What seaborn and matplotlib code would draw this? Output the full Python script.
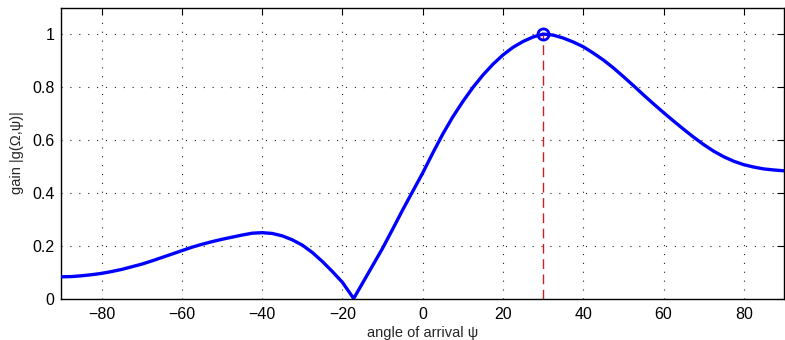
import matplotlib
matplotlib.use("Agg")
import matplotlib.pyplot as plt
import seaborn as sns
import pandas as pd

# angle of arrival (degrees) and gain
psi = [-90, -87.5, -85, -82.5, -80, -77.5, -75, -72.5, -70, -67.5, -65, -62.5,
       -60, -57.5, -55, -52.5, -50, -47.5, -45, -42.5, -40, -37.5, -35, -32.5,
       -30, -27.5, -25, -22.5, -20, -17.2, -15, -12.5, -10, -7.5, -5, -2.5,
       0, 2.5, 5, 7.5, 10, 12.5, 15, 17.5, 20, 22.5, 25, 27.5, 30, 32.5, 35,
       37.5, 40, 42.5, 45, 47.5, 50, 52.5, 55, 57.5, 60, 62.5, 65, 67.5, 70,
       72.5, 75, 77.5, 80, 82.5, 85, 87.5, 90]
gain = [0.082, 0.083, 0.086, 0.090, 0.095, 0.102, 0.110, 0.120, 0.130, 0.142,
        0.155, 0.168, 0.181, 0.194, 0.205, 0.215, 0.224, 0.232, 0.240, 0.247,
        0.249, 0.246, 0.237, 0.222, 0.202, 0.174, 0.140, 0.102, 0.061, 0.0,
        0.058, 0.124, 0.190, 0.262, 0.335, 0.405, 0.475, 0.550, 0.622, 0.687,
        0.745, 0.798, 0.845, 0.886, 0.921, 0.950, 0.972, 0.989, 1.0, 0.996,
        0.985, 0.970, 0.952, 0.928, 0.902, 0.872, 0.839, 0.805, 0.770, 0.736,
        0.703, 0.671, 0.640, 0.610, 0.582, 0.557, 0.536, 0.519, 0.506, 0.497,
        0.490, 0.486, 0.483]

peak_psi = [30]
peak_gain = [1.0]

x_ticks = [-80, -60, -40, -20, 0, 20, 40, 60, 80]
y_ticks = [0, 0.2, 0.4, 0.6, 0.8, 1]
y_tick_labels = ["0", "0.2", "0.4", "0.6", "0.8", "1"]

sns.set_style("white")
plt.rcParams['font.family'] = ['Liberation Sans', 'DejaVu Sans']
plt.rcParams['axes.unicode_minus'] = True

df = pd.DataFrame({"psi": psi, "gain": gain})

fig = plt.figure(figsize=(7.85, 3.4), dpi=100)
ax = fig.add_axes([0.0783, 0.122, 0.9204, 0.8556])

# red dashed marker line at the look direction
ax.plot([peak_psi[0], peak_psi[0]], [0, peak_gain[0]], color="#cc1f1f",
        linestyle=(0, (7, 4)), linewidth=1.0, zorder=2)

sns.lineplot(data=df, x="psi", y="gain", ax=ax, color="#0000ff",
             linewidth=2.4, sort=False, estimator=None, zorder=3)
ax.plot(peak_psi, peak_gain, marker="o", markersize=8, markerfacecolor="none",
        markeredgecolor="#0000ff", markeredgewidth=2.0, linestyle="none", zorder=4)

ax.set_xlim(-90, 90)
ax.set_ylim(0, 1.1)
ax.set_xticks(x_ticks)
ax.set_yticks(y_ticks)
ax.set_yticklabels(y_tick_labels)

ax.grid(True, color="#222222", linestyle=(0, (1, 7)), linewidth=0.8)
for s in ax.spines.values():
    s.set_color("black")
    s.set_linewidth(1.0)
ax.tick_params(direction="in", length=5, width=0.8, top=True, right=True,
               labelsize=11.5, colors="black", pad=5)
ax.tick_params(axis="x", pad=6)

ax.set_xlabel("angle of arrival ψ", fontsize=10.5, labelpad=3)
ax.set_ylabel("gain |g(Ω,ψ)|", fontsize=10.5, labelpad=6)

fig.savefig("out.png", dpi=100)
